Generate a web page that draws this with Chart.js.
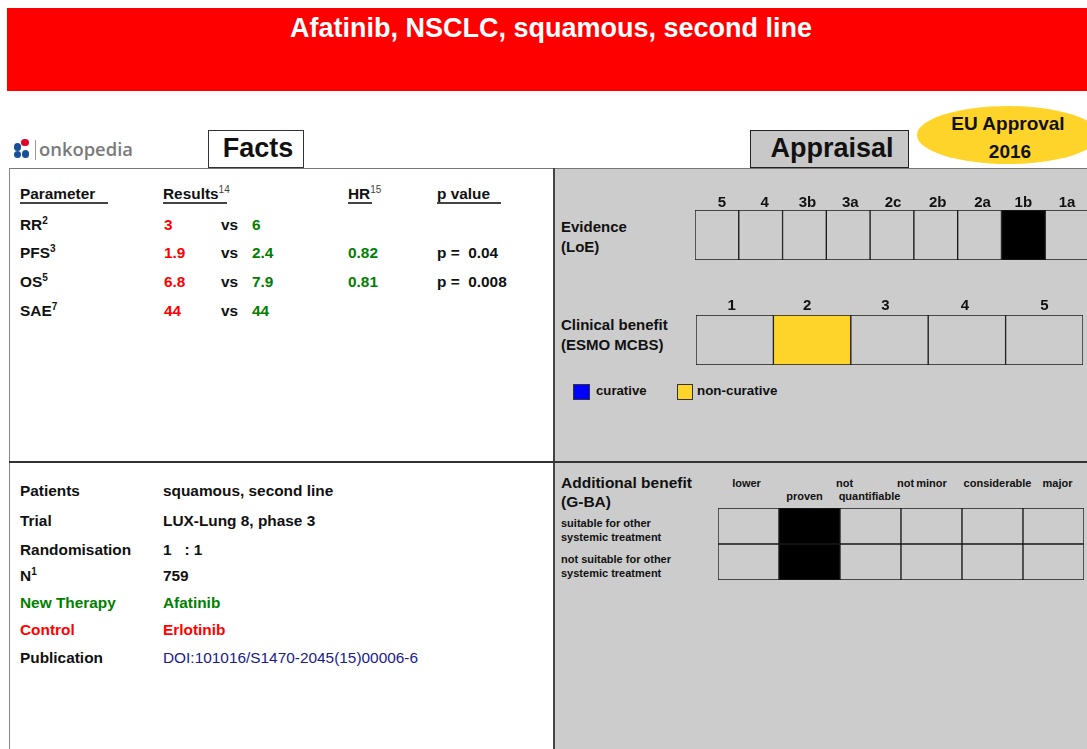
<!DOCTYPE html>
<html>
<head>
<meta charset="utf-8">
<script src="https://cdn.jsdelivr.net/npm/chart.js@4/dist/chart.umd.min.js"></script>
<style>
  html, body { margin:0; padding:0; }
  body { width:1087px; height:749px; overflow:hidden; position:relative; background:#fff;
         font-family:"Liberation Sans", Arial, sans-serif; color:#111; }
  .abs { position:absolute; }
  .t { position:absolute; white-space:pre; transform:translateY(-50%); line-height:1.15; }
  .b { font-weight:bold; }
  .c { transform:translate(-50%,-50%); text-align:center; }
  sup { font-size:10px; line-height:0; vertical-align:6px; }
  canvas { position:absolute; }
</style>
</head>
<body>
<script>
// ---------------- DATA ----------------
const title = 'Afatinib, NSCLC, squamous, second line';
const approvalYear = '2016';

const resultParams   = ['RR', 'PFS', 'OS', 'SAE'];
const paramRefs      = ['2', '3', '5', '7'];
const controlValues  = ['3', '1.9', '6.8', '44'];
const newTherapyVals = ['6', '2.4', '7.9', '44'];
const hazardRatios   = [null, '0.82', '0.81', null];
const pValues        = [null, '0.04', '0.008', null];

const trialLabels = ['Patients', 'Trial', 'Randomisation', 'N', 'New Therapy', 'Control', 'Publication'];
const trialValues = ['squamous, second line', 'LUX-Lung 8, phase 3', '1   : 1', '759', 'Afatinib', 'Erlotinib',
                     'DOI:101016/S1470-2045(15)00006-6'];

const loeLevels = ['5', '4', '3b', '3a', '2c', '2b', '2a', '1b', '1a'];
const loeCells  = [1, 1, 1, 1, 1, 1, 1, 1, 1];
const loeRating = '1b';

const esmoGrades = ['1', '2', '3', '4', '5'];
const esmoCells  = [1, 1, 1, 1, 1];
const esmoRating = '2';
const esmoTypes  = ['curative', 'non-curative'];

const gbaCategories   = ['lower', 'not proven', 'not quantifiable', 'minor', 'considerable', 'major'];
const gbaHeaderTop    = ['lower', 'not', 'not', 'minor', 'considerable', 'major'];
const gbaHeaderBottom = ['', 'proven', 'quantifiable', '', '', ''];
const gbaRowSuitable    = [1, 1, 1, 1, 1, 1];
const gbaRowNotSuitable = [1, 1, 1, 1, 1, 1];
const gbaRating = 'not proven';

// ---------------- LAYOUT HELPERS ----------------
const RED = '#ff0000', GREEN = '#008000', YELLOW = '#ffd42a', PANEL = '#cccccc';
const FS = 15.4;
function box(x, y, w, h, style) {
  const d = document.createElement('div'); d.className = 'abs';
  Object.assign(d.style, { left: x + 'px', top: y + 'px', width: w + 'px', height: h + 'px', boxSizing: 'border-box' }, style || {});
  document.body.appendChild(d); return d;
}
function txt(x, y, html, size, cls, color, extra) {
  const d = document.createElement('div'); d.className = 't ' + (cls || '');
  d.style.left = x + 'px'; d.style.top = y + 'px'; d.style.fontSize = size + 'px';
  if (color) d.style.color = color;
  if (extra) Object.assign(d.style, extra);
  d.innerHTML = html; document.body.appendChild(d); return d;
}

// header
box(7, 8, 1080, 83, { background: RED });
txt(551, 29, title, 27, 'b c', '#fff');

// logo
[[25, 142.5, '#e3002d'], [17.5, 147, '#1a4f9c'], [17.5, 154.5, '#1a4f9c'], [25.5, 154, '#1a4f9c']].forEach(p => {
  box(p[0] - 3.9, p[1] - 3.9, 7.8, 7.8, { background: p[2], borderRadius: '50%' });
});
box(35, 140, 1, 20, { background: '#999' });
txt(39, 149, 'onkopedia', 18.4, '', '#7a7a7a', { fontFamily: '"Open Sans", sans-serif', fontWeight: '600' });

// Facts / Appraisal / EU approval
box(208, 130, 96, 38, { background: '#fff', border: '1px solid #333' });
txt(258, 149, 'Facts', 27, 'b c', '#111');
box(750, 130, 159, 38, { background: '#c8c8c8', border: '1px solid #222' });
txt(832, 149, 'Appraisal', 27, 'b c', '#111');
box(917, 106, 182, 58, { background: YELLOW, borderRadius: '50%' });
txt(1008, 124, 'EU Approval', 19, 'b c', '#111');
txt(1010, 152, approvalYear, 19, 'b c', '#111');

// panels
box(554, 168, 533, 581, { background: PANEL });
box(9, 168, 1078, 1, { background: '#777' });
box(9, 168, 1, 581, { background: '#888' });
box(553, 168, 2, 581, { background: '#444' });
box(9, 461, 1078, 2, { background: '#333' });

// Facts table
txt(20, 194, 'Parameter', FS, 'b');
box(20, 202, 88, 2, { background: '#444' });
txt(163, 194, 'Results<sup style="font-weight:normal;color:#444">14</sup>', FS, 'b');
box(163, 202, 64, 2, { background: '#444' });
txt(348, 194, 'HR<sup style="font-weight:normal;color:#444">15</sup>', FS, 'b');
box(348, 202, 24, 2, { background: '#444' });
txt(437, 194, 'p value', FS, 'b');
box(437, 202, 64, 2, { background: '#444' });
const rowY = [225, 253, 282, 311];
resultParams.forEach((p, i) => {
  const y = rowY[i];
  txt(20, y, p + '<sup>' + paramRefs[i] + '</sup>', FS, 'b');
  txt(164, y, controlValues[i], FS, 'b', RED);
  txt(221, y, 'vs', FS, 'b');
  txt(252, y, newTherapyVals[i], FS, 'b', GREEN);
  if (hazardRatios[i]) txt(348, y, hazardRatios[i], FS, 'b', GREEN);
  if (pValues[i]) txt(437, y, 'p =  ' + pValues[i], FS, 'b');
});

// Trial info
const infoY = [491, 521, 550, 576, 603, 630, 658];
trialLabels.forEach((l, i) => {
  const col = l === 'New Therapy' ? GREEN : (l === 'Control' ? RED : '#111');
  txt(20, infoY[i], l === 'N' ? 'N<sup>1</sup>' : l, FS, 'b', col);
  const isDoi = l === 'Publication';
  txt(163, infoY[i], trialValues[i], FS, isDoi ? '' : 'b', isDoi ? '#1a1a8c' : col);
});

// Appraisal labels
txt(561, 227, 'Evidence', 15, 'b');
txt(561, 247, '(LoE)', 15, 'b');
txt(561, 325, 'Clinical benefit', 15, 'b');
txt(561, 345, '(ESMO MCBS)', 15, 'b');
box(573, 384, 17, 16, { background: '#0000ff', border: '1px solid #333' });
txt(596, 391, esmoTypes[0], 13.2, 'b');
box(677, 384, 16, 16, { background: YELLOW, border: '1px solid #333' });
txt(697, 391, esmoTypes[1], 13.4, 'b');
txt(561, 483, 'Additional benefit', 15.5, 'b');
txt(561, 502, '(G-BA)', 15.5, 'b');
txt(561, 523, 'suitable for other', 11, 'b');
txt(561, 537, 'systemic treatment', 11, 'b');
txt(561, 559, 'not suitable for other', 11, 'b');
txt(561, 573, 'systemic treatment', 11, 'b');

// ---------------- CHARTS ----------------
function makeCanvas(x, y, w, h) {
  const c = document.createElement('canvas');
  c.width = w; c.height = h; c.style.left = x + 'px'; c.style.top = y + 'px';
  c.style.width = w + 'px'; c.style.height = h + 'px';
  document.body.appendChild(c); return c;
}
const topLabels = {
  id: 'topLabels',
  afterDraw(chart, args, opts) {
    if (!opts.labels) return;
    const ctx = chart.ctx, xs = chart.scales.x;
    ctx.save();
    ctx.font = 'bold 15px "Liberation Sans", Arial, sans-serif';
    ctx.fillStyle = '#111'; ctx.textAlign = 'center'; ctx.textBaseline = 'middle';
    opts.labels.forEach((l, i) => ctx.fillText(l, xs.getPixelForValue(i) + (opts.nudge ? opts.nudge[i] : 0), chart.chartArea.top - opts.gap));
    ctx.restore();
  }
};
function gridOptions(padTop, labels, gap, ymax, stacked, nudge) {
  return {
    responsive: false, animation: false, events: [],
    layout: { padding: { top: padTop, left: 0, right: 0, bottom: 0 } },
    plugins: { legend: { display: false }, tooltip: { enabled: false }, topLabels: { labels: labels, gap: gap, nudge: nudge } },
    scales: {
      x: { display: false, stacked: !!stacked },
      y: { display: false, min: 0, max: ymax, stacked: !!stacked }
    }
  };
}
function barStyle(cats, rating, fill) {
  return {
    backgroundColor: cats.map(c => c === rating ? fill : PANEL),
    borderColor: '#1a1a1a', borderWidth: 1, borderSkipped: false,
    barPercentage: 1, categoryPercentage: 1
  };
}

// LoE
new Chart(makeCanvas(695, 192, 394, 68), {
  type: 'bar',
  data: { labels: loeLevels, datasets: [Object.assign({ data: loeCells }, barStyle(loeLevels, loeRating, '#000'))] },
  options: gridOptions(18, loeLevels, 7, 1, false, [5, 4, 3, 2, 1, 2, 3, 0, 0]),
  plugins: [topLabels]
});

// ESMO
new Chart(makeCanvas(696, 297, 387, 68), {
  type: 'bar',
  data: { labels: esmoGrades, datasets: [Object.assign({ data: esmoCells }, barStyle(esmoGrades, esmoRating, YELLOW))] },
  options: gridOptions(18, esmoGrades, 9, 1, false, [-3, -5, -4, -2, 0]),
  plugins: [topLabels]
});

// G-BA
const gbaChart = new Chart(makeCanvas(718, 508, 366, 72), {
  type: 'bar',
  data: {
    labels: gbaCategories,
    datasets: [
      Object.assign({ label: 'not suitable for other systemic treatment', data: gbaRowNotSuitable }, barStyle(gbaCategories, gbaRating, '#000')),
      Object.assign({ label: 'suitable for other systemic treatment', data: gbaRowSuitable }, barStyle(gbaCategories, gbaRating, '#000'))
    ]
  },
  options: gridOptions(0, null, 0, 2, true),
  plugins: [topLabels]
});
// G-BA header labels, placed from the chart's own x scale
const topNudge = [-2, 35, 35, 0, 5, 4], botNudge = [0, -5, -1, 0, 0, 0];
gbaCategories.forEach((c, i) => {
  const cx = 718 + gbaChart.scales.x.getPixelForValue(i);
  if (gbaHeaderTop[i]) txt(cx + topNudge[i], 483, gbaHeaderTop[i], 11, 'b c');
  if (gbaHeaderBottom[i]) txt(cx + botNudge[i], 496, gbaHeaderBottom[i], 11, 'b c');
});
</script>
</body>
</html>
